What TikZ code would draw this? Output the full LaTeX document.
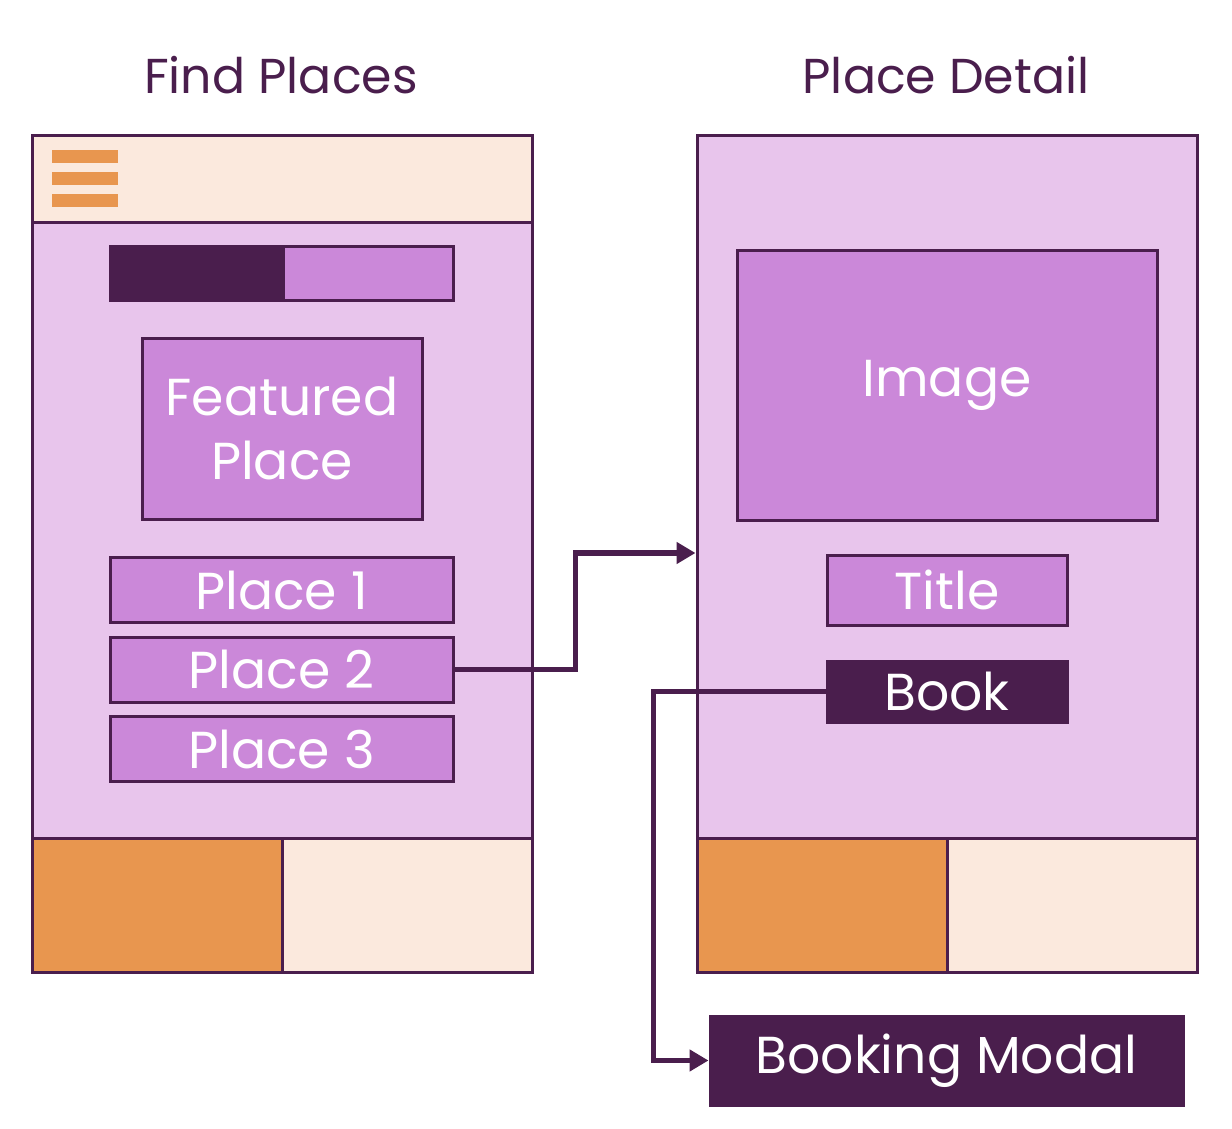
\documentclass[tikz,border=0pt]{standalone}
\usepackage{fontspec}
\setmainfont{Poppins}
\usetikzlibrary{arrows.meta,positioning}
\definecolor{MockDark}{HTML}{4A1E4D}
\definecolor{MockLilac}{HTML}{E8C5EC}
\definecolor{MockMauve}{HTML}{CB88D9}
\definecolor{MockOrange}{HTML}{E8964F}
\definecolor{MockPeach}{HTML}{FBE9DD}
\newcommand{\mockfont}{\fontsize{52}{64}\selectfont}

\begin{document}
\begin{tikzpicture}[
    x=1pt, y=-1pt,
    panel/.style={
      draw=MockDark,
      fill=#1,
      line width=3pt,
      inner sep=0pt
    },
    widget/.style={
      panel=#1,
      text=white,
      align=center,
      font=\mockfont
    },
    bar/.style={
      fill=MockOrange,
      minimum width=66pt,
      minimum height=13pt,
      inner sep=0pt
    },
    heading/.style={
      font=\fontsize{49}{60}\selectfont,
      text=MockDark
    },
    link/.style={
      -{Triangle[length=19pt,width=21pt]},
      line width=5.5pt,
      color=MockDark
    }
  ]

  \useasboundingbox (0,0) rectangle (1232,1128);

  \node[heading] (findtitle)   at (281,75) {Find Places};
  \node[heading] (detailtitle) at (946,75) {Place Detail};

  \node[panel=MockLilac,minimum width=500pt,minimum height=616pt] (findmain) at (282,530) {};
  \node[panel=MockPeach,minimum width=500pt,minimum height=87pt]  (findhead) at (282,178.5) {};
  \node[panel=MockOrange,minimum width=250pt,minimum height=134pt] (findtabA) at (157,905) {};
  \node[panel=MockPeach,minimum width=250pt,minimum height=134pt]  (findtabB) at (407,905) {};

  \node[bar] (burgerA) at (85,156.5) {};
  \node[bar] (burgerB) at (85,178.5) {};
  \node[bar] (burgerC) at (85,200.5) {};

  \node[panel=MockMauve,minimum width=343pt,minimum height=54pt] (search) at (281.5,273) {};
  \node[panel=MockDark,minimum width=173pt,minimum height=54pt]  (searchfill) at (196.5,273) {};

  \node[widget=MockMauve,minimum width=280pt,minimum height=181pt] (featured) at (282,428.5) {Featured\\Place};
  \node[widget=MockMauve,minimum width=343pt,minimum height=65pt] (placeA) at (281.5,590)   {Place 1};
  \node[widget=MockMauve,minimum width=343pt,minimum height=65pt] (placeB) at (281.5,669.5) {Place 2};
  \node[widget=MockMauve,minimum width=343pt,minimum height=65pt] (placeC) at (281.5,749)   {Place 3};

  \node[panel=MockLilac,minimum width=500pt,minimum height=703pt]  (detailmain) at (947,486.5) {};
  \node[panel=MockOrange,minimum width=250pt,minimum height=134pt] (detailtabA) at (822,905) {};
  \node[panel=MockPeach,minimum width=250pt,minimum height=134pt]  (detailtabB) at (1072,905) {};

  \node[widget=MockMauve,minimum width=420pt,minimum height=270pt] (image) at (947,385)   {Image};
  \node[widget=MockMauve,minimum width=240pt,minimum height=70pt]  (title) at (947,590)   {Title};
  \node[widget=MockDark,minimum width=240pt,minimum height=61pt]   (book)  at (947,691.5) {Book};
  \node[widget=MockDark,minimum width=473pt,minimum height=89pt]   (modal) at (946.5,1060.5) {Booking Modal};

  \coordinate (entry) at (detailmain.west |- 0,553);

  \draw[link] (placeB.east) -- ++(121,0) |- (entry);
  \draw[link] (book.west) -- ++(-172,0) |- (modal.west);

\end{tikzpicture}
\end{document}
